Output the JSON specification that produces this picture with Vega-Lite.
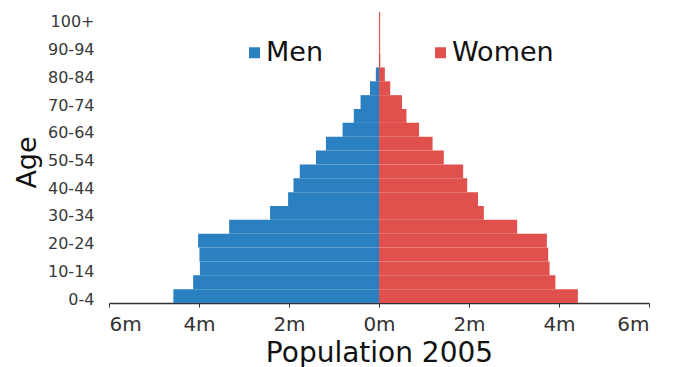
{
  "$schema": "https://vega.github.io/schema/vega-lite/v6.json",
  "width": 540,
  "height": 291,
  "autosize": {"type": "none"},
  "padding": {"left": 109, "top": 12, "right": 27, "bottom": 64},
  "config": {"view": {"stroke": null}, "font": "DejaVu Sans"},
  "data": {"values": [
    {"age": "0-4", "sex": "Men", "pop": -4.57},
    {"age": "5-9", "sex": "Men", "pop": -4.13},
    {"age": "10-14", "sex": "Men", "pop": -3.98},
    {"age": "15-19", "sex": "Men", "pop": -3.99},
    {"age": "20-24", "sex": "Men", "pop": -4.02},
    {"age": "25-29", "sex": "Men", "pop": -3.33},
    {"age": "30-34", "sex": "Men", "pop": -2.42},
    {"age": "35-39", "sex": "Men", "pop": -2.02},
    {"age": "40-44", "sex": "Men", "pop": -1.90},
    {"age": "45-49", "sex": "Men", "pop": -1.76},
    {"age": "50-54", "sex": "Men", "pop": -1.40},
    {"age": "55-59", "sex": "Men", "pop": -1.18},
    {"age": "60-64", "sex": "Men", "pop": -0.81},
    {"age": "65-69", "sex": "Men", "pop": -0.56},
    {"age": "70-74", "sex": "Men", "pop": -0.41},
    {"age": "75-79", "sex": "Men", "pop": -0.20},
    {"age": "80-84", "sex": "Men", "pop": -0.07},
    {"age": "85-89", "sex": "Men", "pop": -0.002},
    {"age": "90-94", "sex": "Men", "pop": -0.001},
    {"age": "95-99", "sex": "Men", "pop": -0.001},
    {"age": "100+", "sex": "Men", "pop": -0.001},
    {"age": "0-4", "sex": "Women", "pop": 4.42},
    {"age": "5-9", "sex": "Women", "pop": 3.92},
    {"age": "10-14", "sex": "Women", "pop": 3.79},
    {"age": "15-19", "sex": "Women", "pop": 3.76},
    {"age": "20-24", "sex": "Women", "pop": 3.73},
    {"age": "25-29", "sex": "Women", "pop": 3.07},
    {"age": "30-34", "sex": "Women", "pop": 2.33},
    {"age": "35-39", "sex": "Women", "pop": 2.20},
    {"age": "40-44", "sex": "Women", "pop": 1.96},
    {"age": "45-49", "sex": "Women", "pop": 1.87},
    {"age": "50-54", "sex": "Women", "pop": 1.44},
    {"age": "55-59", "sex": "Women", "pop": 1.19},
    {"age": "60-64", "sex": "Women", "pop": 0.89},
    {"age": "65-69", "sex": "Women", "pop": 0.61},
    {"age": "70-74", "sex": "Women", "pop": 0.51},
    {"age": "75-79", "sex": "Women", "pop": 0.25},
    {"age": "80-84", "sex": "Women", "pop": 0.13},
    {"age": "85-89", "sex": "Women", "pop": 0.03},
    {"age": "90-94", "sex": "Women", "pop": 0.025},
    {"age": "95-99", "sex": "Women", "pop": 0.025},
    {"age": "100+", "sex": "Women", "pop": 0.025}
  ]},
  "mark": {"type": "bar"},
  "encoding": {
    "y": {
      "field": "age",
      "type": "ordinal",
      "scale": {
        "domain": ["100+", "95-99", "90-94", "85-89", "80-84", "75-79", "70-74", "65-69", "60-64", "55-59", "50-54", "45-49", "40-44", "35-39", "30-34", "25-29", "20-24", "15-19", "10-14", "5-9", "0-4"],
        "paddingInner": 0,
        "paddingOuter": 0
      },
      "axis": {
        "values": ["100+", "90-94", "80-84", "70-74", "60-64", "50-54", "40-44", "30-34", "20-24", "10-14", "0-4"],
        "domain": false,
        "ticks": false,
        "labelFontSize": 16,
        "labelColor": "#383838",
        "labelPadding": 15,
        "labelOffset": 3.5,
        "title": "Age",
        "titleFontSize": 27,
        "titleFontWeight": "normal",
        "titleColor": "#111",
        "titleAngle": 270,
        "titleX": -74,
        "titleY": 150,
        "titleBaseline": "alphabetic",
        "titleAlign": "center"
      }
    },
    "x": {
      "field": "pop",
      "type": "quantitative",
      "scale": {"domain": [-6, 6], "nice": false},
      "axis": {
        "values": [-6, -4, -2, 0, 2, 4, 6],
        "labelExpr": "abs(datum.value) + 'm'",
        "grid": false,
        "domainColor": "#333",
        "domainWidth": 1.5,
        "tickColor": "#333",
        "tickSize": 4,
        "labelPadding": 7,
        "labelFontSize": 20,
        "labelColor": "#333",
        "title": "Population 2005",
        "titleFontSize": 28,
        "titleFontWeight": "normal",
        "titleColor": "#111",
        "titleY": 58,
        "titleBaseline": "alphabetic"
      }
    },
    "color": {
      "field": "sex",
      "type": "nominal",
      "scale": {"domain": ["Men", "Women"], "range": ["#2a80c0", "#e0504c"]},
      "legend": {
        "title": null,
        "orient": "none",
        "direction": "horizontal",
        "legendX": 132,
        "legendY": 27,
        "symbolType": "square",
        "symbolSize": 121,
        "labelFontSize": 27,
        "labelColor": "#111",
        "columnPadding": 103,
        "labelOffset": -2,
        "padding": 0
      }
    }
  }
}
